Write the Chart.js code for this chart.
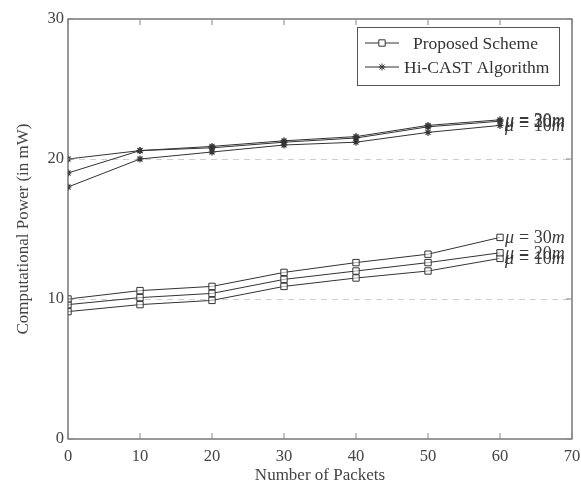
<!DOCTYPE html>
<html>
<head>
<meta charset="utf-8">
<script src="https://cdn.jsdelivr.net/npm/chart.js@4.4.0/dist/chart.umd.min.js"></script>
<style>
  html, body { margin: 0; padding: 0; background: #fff; }
  #wrap { width: 581px; height: 486px; }
</style>
</head>
<body>
<div id="wrap"><canvas id="c" width="581" height="486"></canvas></div>
<script>
// packets on x axis
const packets = [0, 10, 20, 30, 40, 50, 60];

// proposed scheme, one series per mu
const proposed30 = [10.0, 10.6, 10.9, 11.9, 12.6, 13.2, 14.4];
const proposed20 = [9.6, 10.1, 10.4, 11.4, 12.0, 12.6, 13.3];
const proposed10 = [9.1, 9.6, 9.9, 10.9, 11.5, 12.0, 12.9];

// Hi-CAST algorithm
const hicast30 = [20.0, 20.6, 20.9, 21.3, 21.6, 22.4, 22.8];
const hicast20 = [19.0, 20.6, 20.8, 21.2, 21.5, 22.3, 22.7];
const hicast10 = [18.0, 20.0, 20.5, 21.0, 21.2, 21.9, 22.4];

const muLabels = ['30m', '20m', '10m'];
const legendLabels = ['Proposed Scheme', 'Hi-CAST Algorithm'];
const yTicks = [0, 10, 20, 30];
const yTitle = 'Computational Power (in mW)';

const ink = '#333';
const serif = '"Liberation Serif", "DejaVu Serif", serif';

function pts(arr) { return arr.map((v, i) => ({ x: packets[i], y: v })); }

function propSet(arr, mu) {
  return { label: legendLabels[0], mu: mu, data: pts(arr), borderColor: ink, borderWidth: 1,
    pointStyle: 'rect', pointRadius: 4.5, pointBackgroundColor: 'rgba(255,255,255,0.6)',
    pointBorderColor: ink, pointBorderWidth: 1, tension: 0 };
}
function hiSet(arr, mu) {
  return { label: legendLabels[1], mu: mu, data: pts(arr), borderColor: ink, borderWidth: 1,
    pointStyle: 'star', pointRadius: 3.5, pointBackgroundColor: ink,
    pointBorderColor: ink, pointBorderWidth: 1.2, tension: 0 };
}

const frame = {
  id: 'frame',
  afterDraw(chart) {
    const { ctx, chartArea: a, scales } = chart;
    ctx.save();
    ctx.strokeStyle = '#555';
    ctx.lineWidth = 1.2;
    ctx.strokeRect(a.left, a.top, a.right - a.left, a.bottom - a.top);
    ctx.lineWidth = 1;
    ctx.strokeStyle = '#888';
    [0, 10, 20, 30, 40, 50, 60, 70].forEach(v => {
      const x = scales.x.getPixelForValue(v);
      ctx.beginPath(); ctx.moveTo(x, a.bottom); ctx.lineTo(x, a.bottom - 6); ctx.stroke();
      ctx.beginPath(); ctx.moveTo(x, a.top); ctx.lineTo(x, a.top + 6); ctx.stroke();
    });
    yTicks.forEach(v => {
      const y = scales.y.getPixelForValue(v);
      ctx.beginPath(); ctx.moveTo(a.left, y); ctx.lineTo(a.left + 6, y); ctx.stroke();
      ctx.beginPath(); ctx.moveTo(a.right, y); ctx.lineTo(a.right - 6, y); ctx.stroke();
    });

    // y axis title
    ctx.save();
    ctx.translate(24, (a.top + a.bottom) / 2);
    ctx.rotate(-Math.PI / 2);
    ctx.fillStyle = '#444';
    ctx.font = '17px ' + serif;
    ctx.textAlign = 'center';
    ctx.textBaseline = 'middle';
    ctx.fillText(yTitle, 0, 0);
    ctx.restore();

    // mu labels at the last point
    ctx.save();
    ctx.beginPath();
    ctx.rect(a.left, a.top, a.right - a.left, a.bottom - a.top);
    ctx.clip();
    ctx.fillStyle = '#3a3a3a';
    ctx.textBaseline = 'middle';
    chart.data.datasets.forEach(ds => {
      const last = ds.data[ds.data.length - 1];
      let x = scales.x.getPixelForValue(last.x) + 5;
      const y = scales.y.getPixelForValue(last.y) + 1;
      ctx.font = 'italic 18px ' + serif;
      ctx.fillText('\u03bc', x, y);
      x += ctx.measureText('\u03bc').width + 5;
      ctx.font = '18px ' + serif;
      ctx.fillText('= ' + ds.mu.replace('m', ''), x, y);
      x += ctx.measureText('= ' + ds.mu.replace('m', '')).width;
      ctx.font = 'italic 18px ' + serif;
      ctx.fillText('m', x, y);
    });
    ctx.restore();

    // legend box
    const lx = 357, ly = 27, lw = 202, lh = 58;
    ctx.fillStyle = '#fff';
    ctx.fillRect(lx, ly, lw, lh);
    ctx.strokeStyle = '#555';
    ctx.lineWidth = 1;
    ctx.strokeRect(lx + 0.5, ly + 0.5, lw, lh);
    const rows = [chart.data.datasets[0], chart.data.datasets[3]];
    rows.forEach((ds, i) => {
      const yy = ly + 16 + i * 24;
      ctx.strokeStyle = ink;
      ctx.beginPath(); ctx.moveTo(lx + 8, yy); ctx.lineTo(lx + 42, yy); ctx.stroke();
      Chart.helpers.drawPoint(ctx, {
        pointStyle: ds.pointStyle, radius: ds.pointRadius, borderWidth: 1
      }, lx + 25, yy);
      ctx.fillStyle = ink;
      ctx.font = '17.5px ' + serif;
      ctx.textBaseline = 'middle';
      ctx.textAlign = 'left';
      ctx.fillText(ds.label, lx + (i === 0 ? 56 : 47), yy + 1);
    });
    ctx.restore();
  }
};

new Chart(document.getElementById('c'), {
  type: 'line',
  data: {
    datasets: [
      propSet(proposed30, muLabels[0]),
      propSet(proposed20, muLabels[1]),
      propSet(proposed10, muLabels[2]),
      hiSet(hicast30, muLabels[0]),
      hiSet(hicast20, muLabels[1]),
      hiSet(hicast10, muLabels[2])
    ]
  },
  options: {
    responsive: false,
    animation: false,
    layout: { padding: { top: 19, right: 9, left: 0, bottom: 0 } },
    plugins: { legend: { display: false }, tooltip: { enabled: false } },
    scales: {
      x: {
        type: 'linear', min: 0, max: 70,
        ticks: { stepSize: 10, color: '#444', font: { family: serif, size: 16.5 }, padding: 0, maxRotation: 0 },
        grid: { display: false },
        border: { display: false },
        title: { display: true, text: 'Number of Packets', color: '#444',
          font: { family: serif, size: 17 }, padding: { top: 0, bottom: 0 } },
        afterFit(s) { s.height = 47; }
      },
      y: {
        min: 0, max: 30,
        ticks: { stepSize: 10, color: '#444', font: { family: serif, size: 16.5 }, padding: 4 },
        grid: {
          color: c => (c.tick && (c.tick.value === 10 || c.tick.value === 20)) ? '#cfcfcf' : 'rgba(0,0,0,0)',
          drawTicks: false
        },
        border: { display: false, dash: [6, 5] },
        title: { display: false },
        afterFit(s) { s.width = 68; }
      }
    }
  },
  plugins: [frame]
});
</script>
</body>
</html>
